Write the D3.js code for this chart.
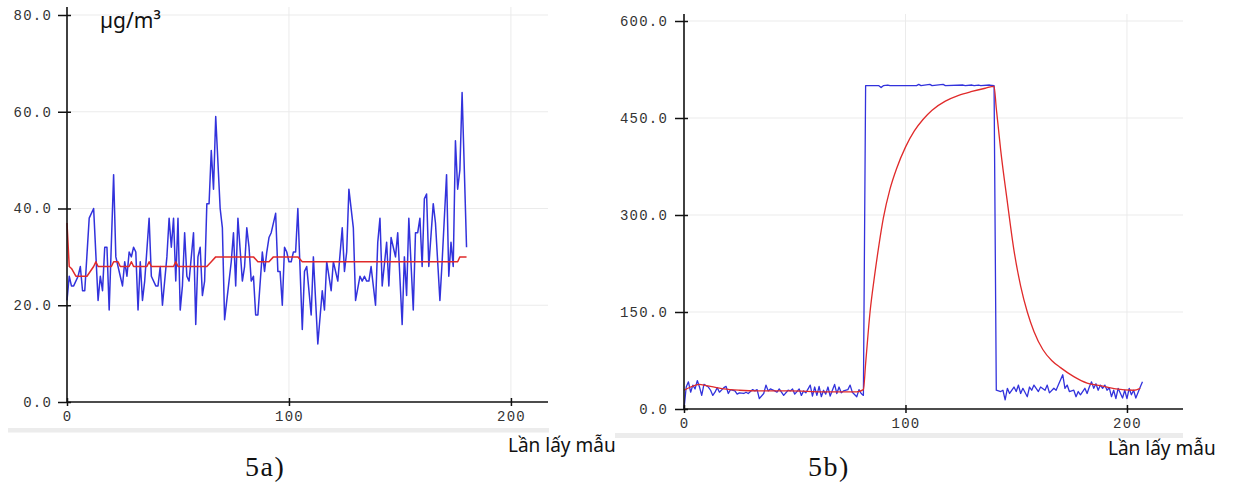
<!DOCTYPE html>
<html><head><meta charset="utf-8">
<script src="https://cdn.jsdelivr.net/npm/d3@7"></script>
<style>body{margin:0;background:#fff}</style>
</head><body>
<svg id="c" width="1237" height="488"></svg>
<script>
// ---------- Panel 5a ----------
const xTicksA = [0, 100, 200];
const yTicksA = [0, 20, 40, 60, 80];
const sampleA = [0,1,2,3,5,6,7,8,10,12,14,15,16,17,18,19,21,22,24,25,26,27,28,29,30,31,32,33,34,35,37,38,40,41,42,43,45,46,47,48,49,50,51,52,53,54,55,57,58,59,60,61,62,63,64,65,66,67,69,70,71,73,74,75,76,77,79,80,81,82,83,84,85,86,88,89,90,91,92,94,95,96,97,98,99,100,101,102,103,104,106,107,108,110,111,113,115,116,117,119,120,122,124,125,126,127,129,130,132,133,134,135,136,137,139,140,141,142,144,145,146,148,149,151,152,153,154,156,157,158,159,160,161,162,163,165,166,168,169,171,172,173,174,175,176,177,178,180];
const rawA = [21,26,24,24,26,28,23,23,38,40,21,26,23,32,32,19,47,30,26,24,29,26,31,30,32,31,19,29,21,25,38,26,24,24,28,20,30,38,32,38,25,38,19,24,35,26,25,35,16,30,32,22,25,41,41,52,44,59,40,36,17,25,29,35,24,38,25,28,36,32,25,26,18,18,31,27,31,34,35,39,27,27,20,32,31,29,29,31,31,40,15,27,28,18,30,12,23,19,29,23,29,25,36,27,31,44,36,21,26,25,26,25,25,28,20,33,38,24,33,24,34,30,35,16,30,22,38,19,35,35,38,28,42,43,28,41,37,21,29,47,26,33,28,54,44,48,64,32];
const sampleAf = [0,1,2,4,9,12,13,14,20,21,23,24,28,29,30,36,37,38,48,49,50,63,65,67,84,86,91,93,104,106,176,177,180];
const filtA = [37,28,27.6,26,26,28,29,28,28,29,29,28,28,29,28,28,29,28,28,29,28,28,29,30,30,29,29,30,30,29,29,30,30];

// ---------- Panel 5b ----------
const xTicksB = [0, 100, 200];
const yTicksB = [0, 150, 300, 450, 600];
const sampleB = [0,1,2,3,4,5,6,7,8,9,11,12,13,14,15,16,18,19,20,21,23,24,25,27,28,29,31,32,33,34,36,37,38,39,41,42,43,44,45,47,48,49,50,52,53,54,55,57,58,59,60,61,62,63,64,65,66,68,69,70,71,72,74,75,76,78,79,80,81,82,88,89,90,92,93,105,106,107,111,112,117,118,126,127,130,131,133,134,138,140,141,143,144,145,146,147,149,150,151,152,153,155,156,157,158,160,161,163,164,165,167,168,169,171,172,173,174,176,177,178,179,181,182,183,184,185,186,187,188,189,190,191,192,193,194,195,196,198,199,200,201,202,203,204,206,207];
const rawB = [0,34,42,26,37,31,44,34,21,38,34,29,21,26,33,26,33,35,24,30,28,23,25,24,26,24,30,28,30,16,24,37,28,31,28,26,31,26,21,29,28,31,23,31,21,28,25,37,20,34,21,35,19,29,23,34,20,38,24,34,25,28,30,37,26,19,30,24,21,500,500,497,500,501,500,500,502,500,502,500,502,500,501,500,501,500,501,500,501,500,29,27,29,14,32,24,34,27,37,24,32,19,34,29,37,27,34,29,37,25,32,29,37,53,32,37,27,29,19,27,22,32,24,34,42,32,39,29,37,32,37,29,33,19,29,16,32,17,29,16,32,22,29,17,34,42];
const sampleBf = [0,3,7,9,18,25,33,48,63,78,81,82,84,86,88,90,93,96,100,104,108,112,118,124,130,136,140,141,143,146,149,152,155,158,162,166,170,176,182,188,195,203,206];
const filtB = [29,34,38,37,31,29,28,28,26.5,26.5,30,70,150,205,253,295,340,372,405,430,448,462,476,485,491,496,499,465,400,320,245,190,150,120,92,75,64,50,40,36,31,29,32];

const svg = d3.select('#c');
const BLUE = '#3232dc', RED = '#e02a2a';

function panel(o) {
  const x = d3.scaleLinear().domain(o.xDomain).range(o.xRange);
  const y = d3.scaleLinear().domain(o.yDomain).range(o.yRange);
  const g = svg.append('g');
  g.append('rect').attr('x', o.band[0]).attr('y', o.band[1])
    .attr('width', o.band[2]).attr('height', o.band[3]).attr('fill', '#ececec');
  g.selectAll('line.hg').data(o.yTicks.filter(d => d > 0)).join('line').attr('class','hg')
    .attr('x1', x(0)).attr('x2', o.xRange[1]).attr('y1', d => y(d)).attr('y2', d => y(d))
    .attr('stroke', '#ebebeb').attr('stroke-width', 1);
  g.selectAll('line.vg').data(o.xTicks.filter(d => d > 0)).join('line').attr('class','vg')
    .attr('x1', d => x(d)).attr('x2', d => x(d)).attr('y1', y(0)).attr('y2', o.axisTop)
    .attr('stroke', '#ebebeb').attr('stroke-width', 1);
  const line = d3.line().x(d => x(d[0])).y(d => y(d[1]));
  g.append('path').datum(o.s1.map((s, i) => [s, o.v1[i]]))
    .attr('d', line).attr('fill', 'none').attr('stroke', BLUE).attr('stroke-width', o.lw)
    .attr('stroke-linejoin', 'round');
  const line2 = d3.line().x(d => x(d[0])).y(d => y(d[1])).curve(o.curve || d3.curveLinear);
  g.append('path').datum(o.s2.map((s, i) => [s, o.v2[i]]))
    .attr('d', line2).attr('fill', 'none').attr('stroke', RED).attr('stroke-width', o.lw)
    .attr('stroke-linejoin', 'round');
  const ya = g.append('g').attr('transform', `translate(${x(0)},0)`)
    .call(d3.axisLeft(y).tickValues(o.yTicks).tickSize(9).tickPadding(o.yPad).tickFormat(d3.format('.1f')));
  const xa = g.append('g').attr('transform', `translate(0,${y(0)})`)
    .call(d3.axisBottom(x).tickValues(o.xTicks).tickSize(4).tickPadding(5).tickFormat(d3.format('d')));
  [ya, xa].forEach(a => {
    a.select('.domain').remove();
    a.selectAll('.tick line').attr('stroke', '#111').attr('stroke-width', 1.5);
    a.selectAll('.tick text').attr('font-family', '"Liberation Mono", monospace')
      .attr('font-size', 14).attr('letter-spacing', 1.2).attr('fill', '#333');
  });
  ya.selectAll('.tick line').attr('x1', 4);
  xa.selectAll('.tick line').attr('y1', -4);
  g.append('line').attr('x1', x(0)).attr('x2', x(0)).attr('y1', y(0)).attr('y2', o.axisTop)
    .attr('stroke', '#111').attr('stroke-width', 1.6);
  g.append('line').attr('x1', x(0)).attr('x2', o.xRange[1]).attr('y1', y(0)).attr('y2', y(0))
    .attr('stroke', '#111').attr('stroke-width', 1.6);
  return g;
}

panel({
  xDomain: [0, 216.7], xRange: [67, 548], yDomain: [0, 80], yRange: [402, 15],
  xTicks: xTicksA, yTicks: yTicksA, axisTop: 7, yPad: 6, band: [8, 428, 541, 4.5], lw: 1.5,
  s1: sampleA, v1: rawA, s2: sampleAf, v2: filtA
});
panel({
  xDomain: [0, 225.3], xRange: [684, 1183], yDomain: [0, 600], yRange: [409, 21],
  xTicks: xTicksB, yTicks: yTicksB, axisTop: 14, yPad: 7, band: [615, 433, 568, 5], lw: 1.3,
  s1: sampleB, v1: rawB, s2: sampleBf, v2: filtB, curve: d3.curveMonotoneX
});

svg.append('text').attr('x', 100).attr('y', 28).attr('font-family', '"Noto Sans", sans-serif')
  .attr('font-size', 21).attr('fill', '#111').text('µg/m³');
svg.append('text').attr('x', 508).attr('y', 452).attr('font-family', '"Noto Sans", sans-serif')
  .attr('font-size', 19).attr('fill', '#111').text('Lần lấy mẫu');
svg.append('text').attr('x', 1108).attr('y', 455).attr('font-family', '"Noto Sans", sans-serif')
  .attr('font-size', 19).attr('fill', '#111').text('Lần lấy mẫu');
svg.append('text').attr('x', 245).attr('y', 476).attr('font-family', '"Liberation Serif", serif')
  .attr('font-size', 28).attr('letter-spacing', 1.5).attr('fill', '#111').text('5a)');
svg.append('text').attr('x', 808).attr('y', 476).attr('font-family', '"Liberation Serif", serif')
  .attr('font-size', 28).attr('letter-spacing', 1.5).attr('fill', '#111').text('5b)');
</script>
</body></html>
